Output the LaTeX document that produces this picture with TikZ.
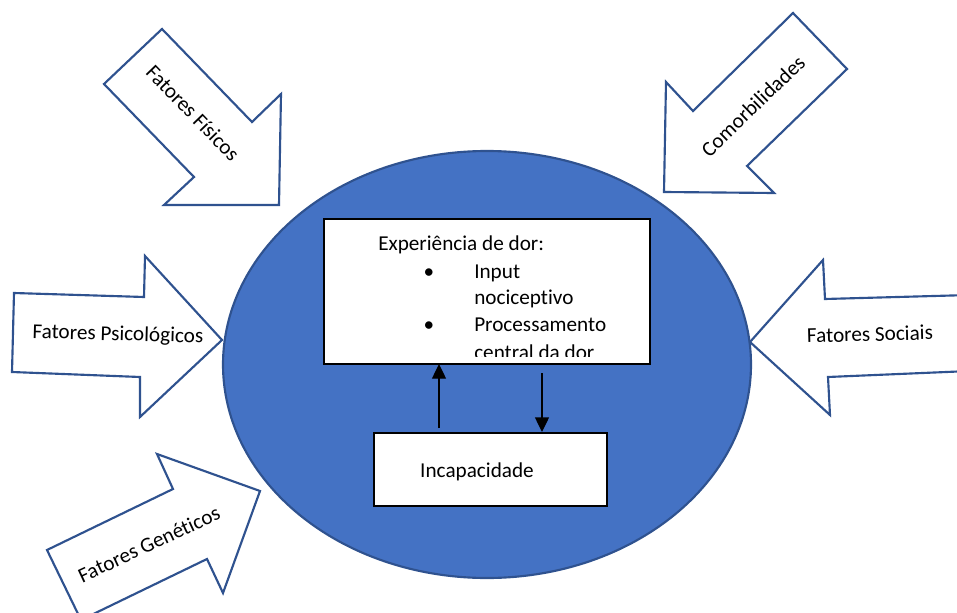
\documentclass[tikz,border=0pt]{standalone}
\usepackage{fontspec}
\setmainfont{Carlito}[Ligatures=NoCommon]
\usetikzlibrary{arrows.meta}
\definecolor{fillblue}{HTML}{4472C4}
\definecolor{edgeblue}{HTML}{2F528F}
\begin{document}
\begin{tikzpicture}[x=0.75pt,y=-0.75pt,
  bigarrow/.style={draw=edgeblue,line width=1.6pt,fill=white,line join=miter},
  whitebox/.style={draw=black,line width=1.6pt,fill=white},
  lbl/.style={font=\fontsize{15.9pt}{18.75pt}\selectfont,inner sep=0pt},
  conn/.style={line width=1pt,-{Triangle[length=11pt,width=10.5pt]}}]
\useasboundingbox (0,0) rectangle (957,613);
\begin{scope}
\clip (0,0) rectangle (957,613);
% ellipse
\draw[fill=fillblue,draw=edgeblue,line width=1.6pt] (487,364.5) ellipse [x radius=264, y radius=213.5];
% arrows
\draw[bigarrow] (162,29) -- (252,122) -- (281,94) -- (279,205) -- (164,205) -- (194,177) -- (104,84) -- cycle;
\draw[bigarrow] (793,13) -- (847,69) -- (747,166) -- (774,193) -- (664,192) -- (666,82) -- (693,111) -- cycle;
\draw[bigarrow] (14,293) -- (144,297) -- (145,256) -- (222,340) -- (140,417) -- (140,377) -- (12,372) -- cycle;
\draw[bigarrow] (750,342) -- (823,260) -- (825,299) -- (970,295) -- (970,371) -- (828,377) -- (830,415) -- cycle;
\draw[bigarrow] (157,454) -- (260,491) -- (223,593) -- (207,559) -- (81,620) -- (47,550) -- (173,489) -- cycle;
\end{scope}
% arrow labels
\node[lbl,rotate=-46] (fis) at (193,113) {Fatores Físicos};
\node[lbl,rotate=44] (com) at (753,106) {Comorbilidades};
\node[lbl,rotate=-1.6] (psi) at (118,335) {Fatores Psicológicos};
\node[lbl,rotate=1.6] (soc) at (870,334) {Fatores Sociais};
\node[lbl,rotate=25] (gen) at (149,544) {Fatores Genéticos};
% boxes
\path[whitebox] (324,219) rectangle (650,364);
\begin{scope}
\clip (326,221) rectangle (648,356);
\node[lbl,anchor=base west] (t1) at (378,250) {Experiência de dor:};
\node[lbl,anchor=base] (b1) at (429,278) {•};
\node[lbl,anchor=base west] (t2) at (474,278) {Input};
\node[lbl,anchor=base west] (t3) at (474,304) {nociceptivo};
\node[lbl,anchor=base] (b2) at (429,331) {•};
\node[lbl,anchor=base west] (t4) at (474,331) {Processamento};
\node[lbl,anchor=base west] (t5) at (474,359) {central da dor};
\end{scope}
\node[whitebox,minimum width=233*0.75pt,minimum height=73*0.75pt,inner sep=0pt,anchor=north west] (inc) at (373,432) {};
\node[lbl] (inct) at (477,472) {Incapacidade};
% connectors
\coordinate (upS) at (439,428);
\coordinate (upE) at (439,364);
\coordinate (dnS) at (542,373);
\coordinate (dnE) at (542,432);
\draw[conn] (upS) -- (upE);
\draw[conn] (dnS) -- (dnE);
\end{tikzpicture}
\end{document}
